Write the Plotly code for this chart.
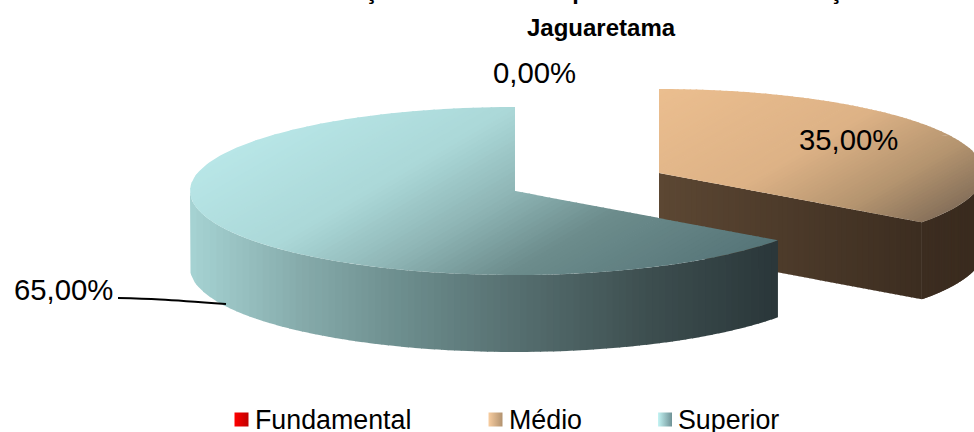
import numpy as np
import plotly.graph_objects as go

categories = ["Fundamental", "Médio", "Superior"]
values = [0.0, 35.0, 65.0]
label_texts = [f"{v:.2f}%".replace(".", ",") for v in values]
swatch_colors = [("#FF0000", "#C00000"), ("#F8CDA0", "#B2926F"), ("#C4F4F4", "#6F9296")]

W, H = 974, 432
RX, RY, DEPTH = 325.0, 84.0, 77.0
centers = {"Superior": (515.0, 191.0), "Médio": (659.0, 173.0)}
top_grad = {
    "Superior": [(0.0, "#B8E6E7"), (0.3, "#ABD8D8"), (0.5, "#8FB6B6"), (0.7, "#6C8C8C"), (1.0, "#567578")],
    "Médio": [(0.0, "#EBBE8F"), (0.5, "#DDB286"), (0.79, "#B4946F"), (1.0, "#86705A")],
}
side_grad = {
    "Superior": [(190, "#A6D3D3"), (300, "#86ABAB"), (400, "#6D8E8E"), (515, "#566F70"), (650, "#3D4E4F"), (778, "#2A3639")],
    "Médio": [(659, "#5C4733"), (922, "#3C2D20"), (974, "#3A2B1F")],
}


def h2r(c):
    return np.array([int(c[i:i + 2], 16) for i in (1, 3, 5)], float)


def ramp(stops, t):
    xs = [s[0] for s in stops]
    rgb = [np.interp(t, xs, [h2r(s[1])[k] for s in stops]) for k in range(3)]
    return "rgb(%d,%d,%d)" % tuple(int(round(v)) for v in rgb)


def clip(poly, d, lo, hi):
    def half(pts, sign, lim):
        out = []
        for i in range(len(pts)):
            a, b = pts[i], pts[(i + 1) % len(pts)]
            fa, fb = sign * (a @ d - lim), sign * (b @ d - lim)
            if fa >= 0:
                out.append(a)
            if fa * fb < 0:
                out.append(a + (b - a) * fa / (fa - fb))
        return out
    pts = half(list(poly), 1, lo)
    return half(pts, -1, hi) if pts else []


def rim_point(cat, deg, dz=0.0):
    cx, cy = centers[cat]
    r = np.radians(deg)
    return np.array([cx + RX * np.sin(r), cy - RY * np.cos(r) + dz])


def add_band(fig, polys, color, name):
    xs, ys = [], []
    for p in polys:
        if len(p) > 2:
            xs += [q[0] for q in p] + [p[0][0], None]
            ys += [q[1] for q in p] + [p[0][1], None]
    if xs:
        fig.add_trace(go.Scatter(x=xs, y=ys, mode="lines", fill="toself", fillcolor=color,
                                 line=dict(width=0), hoverinfo="name", name=name, showlegend=False))


fig = go.Figure()

# slice angles come from the values (clockwise from 12 o'clock)
angles = {}
start = 0.0
for c, v in zip(categories, values):
    angles[c] = (start, start + v * 3.6)
    start += v * 3.6

for cat in ["Médio", "Superior"]:
    a0, a1 = angles[cat]
    cx, cy = centers[cat]

    # visible outer wall
    vis0, vis1 = max(a0, 90.0), min(a1, 270.0)
    thetas = np.linspace(vis0, vis1, 90)
    wall = [rim_point(cat, t) for t in thetas] + [rim_point(cat, t, DEPTH) for t in thetas[::-1]]
    xmin, xmax = min(p[0] for p in wall), max(p[0] for p in wall)
    edges = np.linspace(xmin, xmax, 90)
    dx = np.array([1.0, 0.0])
    for lo, hi in zip(edges[:-1], edges[1:]):
        add_band(fig, [clip(wall, dx, lo, hi + 0.8)], ramp(side_grad[cat], (lo + hi) / 2), cat)

    # cut face turned toward the viewer (only for the slice ending at the lower right)
    if cat == "Médio":
        tip = rim_point(cat, a1)
        face = [np.array([cx, cy]), tip, tip + [0, DEPTH], np.array([cx, cy + DEPTH])]
        edges = np.linspace(cx, tip[0], 50)
        for lo, hi in zip(edges[:-1], edges[1:]):
            add_band(fig, [clip(face, dx, lo, hi + 0.8)], ramp(side_grad[cat], (lo + hi) / 2), cat)

    # top face: convex sub-sectors, cut in diagonal bands
    n_sub = int(np.ceil((a1 - a0) / 80.0))
    cuts = np.linspace(a0, a1, n_sub + 1)
    subs = []
    for s0, s1 in zip(cuts[:-1], cuts[1:]):
        subs.append([np.array([cx, cy])] + [rim_point(cat, t) for t in np.linspace(s0, s1, 50)])
    d = np.array([0.5, 0.866])
    proj = [p @ d for s in subs for p in s]
    tmin, tmax = min(proj), max(proj)
    edges = np.linspace(tmin, tmax, 80)
    for lo, hi in zip(edges[:-1], edges[1:]):
        polys = [clip(s, d, lo, hi + 0.8) for s in subs]
        add_band(fig, polys, ramp(top_grad[cat], ((lo + hi) / 2 - tmin) / (tmax - tmin)), cat)

# leader line for the largest slice
fig.add_trace(go.Scatter(x=[118, 160, 226], y=[298, 299.5, 304], mode="lines",
                         line=dict(color="#000000", width=2, shape="spline"),
                         hoverinfo="skip", showlegend=False))

# legend row
legend_x = [241.5, 495.5, 665]
for c, lx, sc in zip(categories, legend_x, swatch_colors):
    fig.add_trace(go.Scatter(x=[lx], y=[419.5], mode="markers", name=c, showlegend=False,
                             marker=dict(symbol="square", size=14, color=sc[0], line=dict(width=0),
                                         gradient=dict(type="horizontal", color=sc[1]))))
    fig.add_annotation(x=lx + 11, y=419.5, text=c, showarrow=False, xanchor="left", yanchor="middle",
                       font=dict(family="Liberation Sans", size=26.8, color="#000000"))

label_xy = [(534, 72), (848.5, 139.5), (63, 289)]
for t, (x, y) in zip(label_texts, label_xy):
    fig.add_annotation(x=x, y=y, text=t, showarrow=False, xanchor="center", yanchor="middle",
                       font=dict(family="Liberation Sans", size=29.3, color="#000000"))

fig.add_annotation(x=601, y=27.5, text="<b>Jaguaretama</b>", showarrow=False, xanchor="center", yanchor="middle",
                   font=dict(family="Liberation Sans", size=24, color="#000000"))
fig.add_annotation(x=592, xref="x", y=1 + 9 / H, yref="paper",
                   text="<b>Relação dos Docentes por Nível de Escolarização</b>", showarrow=False,
                   xanchor="center", yanchor="middle",
                   font=dict(family="Liberation Sans", size=23.5, color="#000000"))

fig.update_layout(
    width=W, height=H, margin=dict(l=0, r=0, t=0, b=0), autosize=False,
    paper_bgcolor="#FFFFFF", plot_bgcolor="#FFFFFF", showlegend=False,
    xaxis=dict(range=[0, W], visible=False, fixedrange=True),
    yaxis=dict(range=[H, 0], visible=False, fixedrange=True),
)
fig.write_html("out.html", config={"displayModeBar": False},
               post_script="document.body.style.margin='0';document.documentElement.style.overflow='hidden';")
